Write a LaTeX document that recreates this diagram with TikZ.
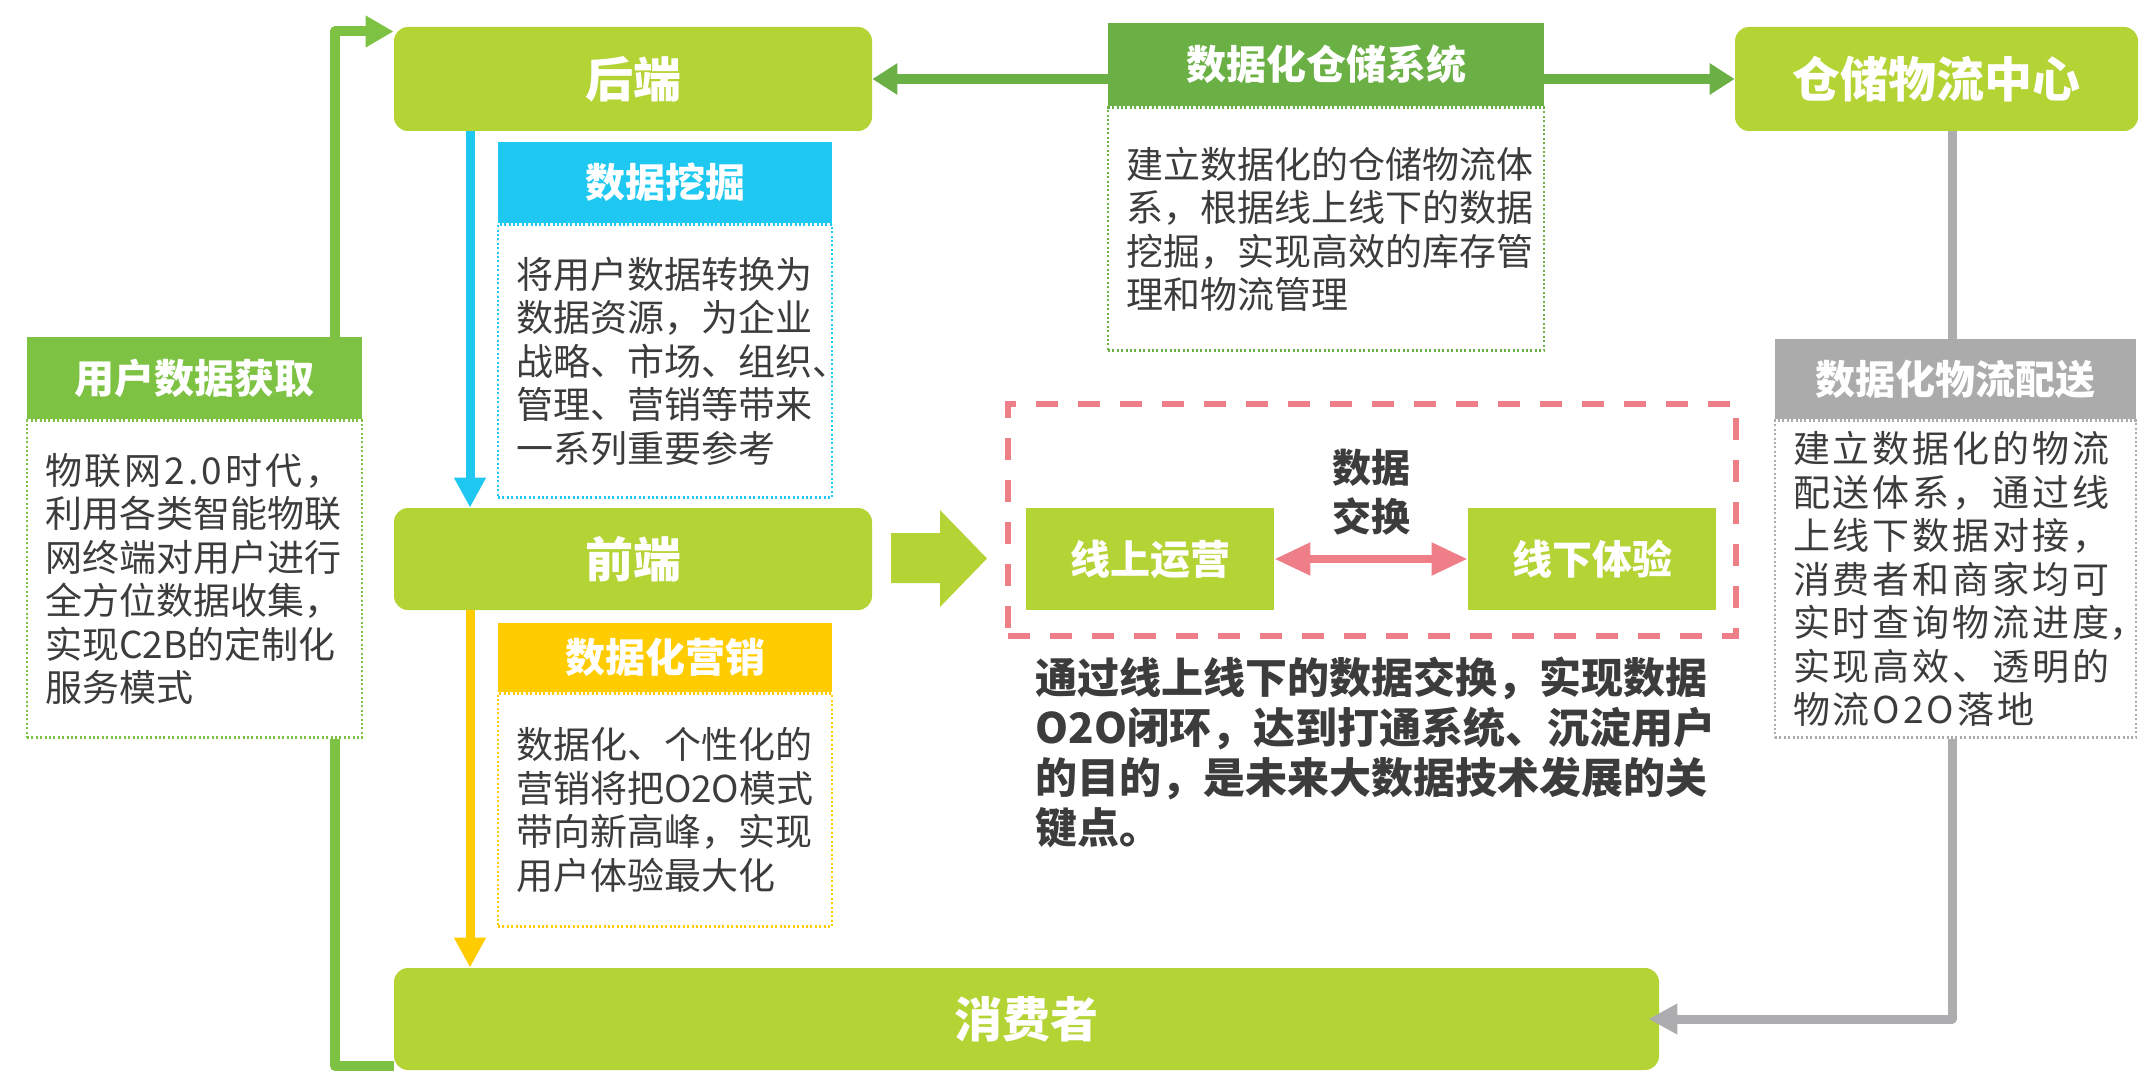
\documentclass[tikz,border=0pt]{standalone}
\usepackage{fontspec}
\setmainfont{Noto Sans CJK SC}
\usetikzlibrary{arrows.meta,backgrounds,calc}
\definecolor{lime}{HTML}{B4D335}
\definecolor{loopgreen}{HTML}{7DC243}
\definecolor{whgreen}{HTML}{6AB045}
\definecolor{cyanc}{HTML}{1EC8F0}
\definecolor{yellowc}{HTML}{FFCC00}
\definecolor{grayh}{HTML}{ABABAB}
\definecolor{grayl}{HTML}{ADADB0}
\definecolor{pinkc}{HTML}{EE7E87}
\definecolor{txt}{HTML}{3C3C3C}
\begin{document}
\begin{tikzpicture}[x=1pt,y=-1pt,
  bigbox/.style={rectangle, rounded corners=7pt, fill=lime, text=white, font=\fontsize{24}{28}\selectfont\bfseries, inner sep=0pt},
  hdr/.style={rectangle, text=white, font=\fontsize{20}{24}\selectfont\bfseries, inner sep=0pt},
  bodybox/.style={rectangle, dash pattern=on 1pt off 1.2pt, line width=1.2pt, inner xsep=9pt, inner ysep=0pt, align=left, text=txt, font=\fontsize{18.5}{21.75}\selectfont},
  greenbox/.style={rectangle, fill=lime, text=white, font=\fontsize{20}{24}\selectfont\bfseries, inner sep=0pt, minimum width=124pt, minimum height=51pt},
  vline/.style={line width=4.5pt, -{Triangle[width=15pt,length=15pt]}},
  garrow/.style={whgreen, line width=5pt, -{Triangle[width=15pt,length=12.5pt]}},
  looparrow/.style={loopgreen, line width=5pt, line join=round},
]
\useasboundingbox (0,0) rectangle (1073,543);

% main boxes
\node[bigbox, minimum width=239pt, minimum height=52pt] (back) at (316.5,39.5) {后端};
\node[bigbox, minimum width=239pt, minimum height=51pt] (front) at (316.5,279.5) {前端};
\node[bigbox, minimum width=632.5pt, minimum height=51pt] (cons) at (513.25,509.5) {消费者};
\node[bigbox, minimum width=201.5pt, minimum height=52pt] (wlc) at (968.25,39.5) {仓储物流中心};

% 数据化仓储系统
\node[hdr, fill=whgreen, minimum width=218pt, minimum height=41.5pt] (whH) at (663,32.25) {数据化仓储系统};
\node[bodybox, draw=whgreen, text width=200pt, minimum height=121.5pt, anchor=north] (whB) at (whH.south)
  {建立数据化的仓储物流体\\系，根据线上线下的数据\\挖掘，实现高效的库存管\\理和物流管理};

% 数据挖掘
\node[hdr, fill=cyanc, minimum width=167pt, minimum height=40.5pt] (mineH) at (332.5,91.25) {数据挖掘};
\node[bodybox, draw=cyanc, text width=149pt, minimum height=136.5pt, anchor=north] (mineB) at (mineH.south)
  {将用户数据转换为\\数据资源，为企业\\战略、市场、组织、\\管理、营销等带来\\一系列重要参考};

% 数据化营销
\node[hdr, fill=yellowc, minimum width=167pt, minimum height=34.5pt] (mktH) at (332.5,328.75) {数据化营销};
\node[bodybox, draw=yellowc, text width=149pt, minimum height=116.5pt, anchor=north] (mktB) at (mktH.south)
  {数据化、个性化的\\营销将把O2O模式\\带向新高峰，实现\\用户体验最大化};

% 用户数据获取
\node[hdr, fill=loopgreen, minimum width=167.5pt, minimum height=41pt] (userH) at (97.25,189) {用户数据获取};
\node[bodybox, draw=loopgreen, text width=149.5pt, minimum height=158.5pt, anchor=north] (userB) at (userH.south)
  {{\addfontfeatures{LetterSpace=8}物联网2.0时代，}\\利用各类智能物联\\网终端对用户进行\\全方位数据收集，\\实现C2B的定制化\\服务模式};

% 数据化物流配送
\node[hdr, fill=grayh, minimum width=180.5pt, minimum height=40pt] (logH) at (977.75,189.5) {数据化物流配送};
\node[bodybox, draw=grayh, text width=162.5pt, minimum height=158.5pt, anchor=north,
  font=\fontsize{18.5}{21.75}\selectfont\addfontfeatures{LetterSpace=8}] (logB) at (logH.south)
  {建立数据化的物流\\配送体系，通过线\\上线下数据对接，\\消费者和商家均可\\实时查询物流进度\makebox[0.45em][l]{，}\\实现高效、透明的\\物流O2O落地};

% O2O area
\node[rectangle, draw=pinkc, line width=3pt, dash pattern=on 11pt off 10pt, minimum width=364pt, minimum height=116pt] (o2o) at (686,260) {};
\node[greenbox] (online) at (575,279.5) {线上运营};
\node[greenbox] (offline) at (796,279.5) {线下体验};
\node[font=\fontsize{19.5}{24.5}\selectfont\bfseries, text=txt, align=center, inner sep=0pt] (exch) at (685.5,246) {数据\\交换};
\node[font=\fontsize{21}{25}\selectfont\bfseries, text=txt, align=left, text width=338pt, inner sep=0pt] (para) at (686.75,376)
  {通过线上线下的数据交换，实现数据\\O2O闭环，达到打通系统、沉淀用户\\的目的，是未来大数据技术发展的关\\键点。};

% big block arrow
\fill[lime] (445.5,266.5) -- (470,266.5) -- (470,255) -- (493.5,279.25) -- (470,303.5) -- (470,291.5) -- (445.5,291.5) -- cycle;

% connectors
\coordinate (lt) at (167.5,15.75);
\coordinate (lb) at (167.5,533);
\coordinate (bx) at (235,0);
\coordinate (gx) at (976,0);
\begin{pgfonlayer}{background}
\draw[looparrow, -{Triangle[width=15pt,length=14pt]}] (userH.north -| lt) -- (lt) -- (back.west |- lt);
\draw[looparrow] (userB.south -| lb) -- (lb) -- (cons.west |- lb);
\end{pgfonlayer}
\draw[vline, cyanc] (back.south -| bx) -- (front.north -| bx);
\draw[vline, yellowc] (front.south -| bx) -- (cons.north -| bx);
\draw[garrow] (whH.west |- back.east) -- (back.east);
\draw[garrow] (whH.east |- wlc.west) -- (wlc.west);
\draw[grayl, line width=4.5pt] (wlc.south -| gx) -- (logH.north -| gx);
\draw[grayl, line width=4.5pt, line join=round, -{Triangle[width=14.5pt,length=14.5pt]}, shorten >=-5.5pt] (logB.south -| gx) |- (cons.east);
\draw[pinkc, line width=4pt, {Triangle[width=15.5pt,length=18pt]}-{Triangle[width=15.5pt,length=18pt]}] (online.east) -- (offline.west);
\end{tikzpicture}
\end{document}
